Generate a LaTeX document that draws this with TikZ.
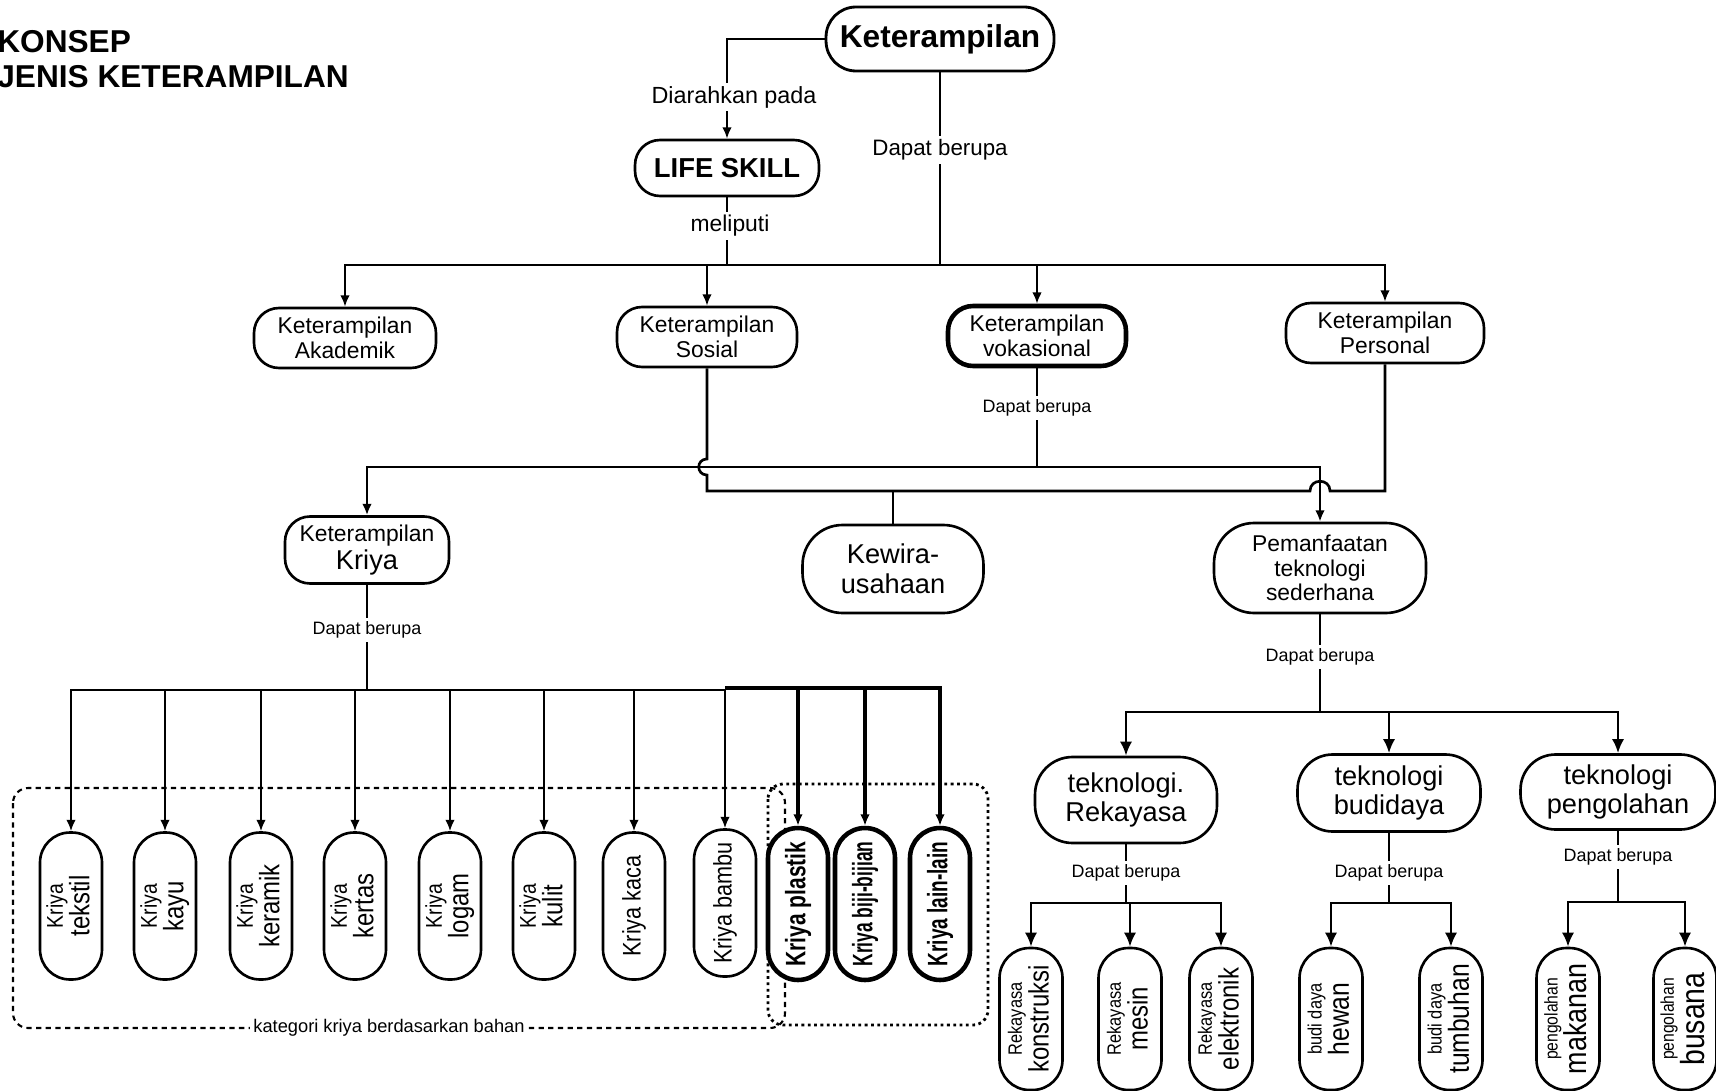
\documentclass[tikz,border=0pt]{standalone}
\usepackage{fontspec}
\setmainfont{Liberation Sans}
\newfontfamily\narrowfont[FakeStretch=0.85]{Liberation Sans}
\usepackage{graphicx}
\usetikzlibrary{arrows.meta,calc}

% rotated texts for the tall boxes
\newcommand{\vlabel}[4]{\rotatebox{90}{\narrowfont\begin{tabular}{@{}c@{}}\fontsize{#1}{#1}\selectfont #2\\\fontsize{#3}{#3}\selectfont #4\end{tabular}}}
\newcommand{\vsingle}[2]{\rotatebox{90}{\narrowfont\fontsize{#1}{#1}\selectfont #2}}
\newcommand{\vbold}[1]{\rotatebox{90}{\resizebox{71pt}{\height}{\fontsize{16}{16}\selectfont\bfseries #1}}}

\begin{document}
\begin{tikzpicture}[x=0.02cm, y=-0.02cm,
    pill/.style={draw, line width=1.5pt, rounded corners=0.5cm, fill=white,
        align=center, inner sep=1pt, minimum height=1.2cm},
    tall/.style={draw, line width=1.5pt, rounded corners=0.6cm, fill=white,
        minimum width=1.24cm, minimum height=2.94cm, inner sep=0pt},
    boldtall/.style={tall, line width=2.6pt, minimum width=1.2cm, minimum height=3.04cm},
    lbl/.style={fill=white, inner sep=2pt, font=\fontsize{10.2}{12}\selectfont},
    ln/.style={line width=1.2pt},
    arr/.style={-{Latex[length=6.5pt,width=5.5pt]}, line width=1.2pt},
    arrbig/.style={-{Latex[length=8pt,width=7pt]}, line width=1.5pt}]

    \useasboundingbox (0,0) rectangle (1716,1091);

    % Title
    \node[anchor=west, inner sep=0pt, font=\fontsize{18}{20}\selectfont\bfseries]
        (judul1) at (-3,42) {KONSEP};
    \node[anchor=west, inner sep=0pt, font=\fontsize{18}{20}\selectfont\bfseries]
        (judul2) at (-3,77) {JENIS KETERAMPILAN};

    % Top
    \node[pill, line width=1.6pt, minimum width=4.56cm, minimum height=1.28cm,
        rounded corners=0.6cm, font=\fontsize{18}{20}\selectfont\bfseries]
        (ket) at (940,39) {Keterampilan};
    \node[pill, minimum width=3.68cm, minimum height=1.12cm,
        font=\fontsize{15.6}{18}\selectfont\bfseries]
        (life) at (727,168) {LIFE SKILL};

    % Level 2
    \node[pill, minimum width=3.64cm, font=\fontsize{13}{14.5}\selectfont]
        (akad) at (345,338) {Keterampilan\\Akademik};
    \node[pill, minimum width=3.6cm, font=\fontsize{13}{14.5}\selectfont]
        (sos) at (707,337) {Keterampilan\\Sosial};
    \node[pill, line width=2.6pt, minimum width=3.56cm, font=\fontsize{13}{14.5}\selectfont]
        (vok) at (1037,336) {Keterampilan\\vokasional};
    \node[pill, minimum width=3.96cm, font=\fontsize{13}{14.5}\selectfont]
        (pers) at (1385,333) {Keterampilan\\Personal};

    \coordinate (top) at (940,265);
    \draw[ln] (ket) -- (top);
    \draw[ln] (life) -- (life |- top);
    \draw[arr] (ket) -| (life);
    \foreach \n in {akad,sos,vok,pers}
        \draw[arr] (top) -| (\n);

    \node[lbl, font=\fontsize{13.3}{15}\selectfont] (lab1) at (734,97) {Diarahkan pada};
    \node[lbl, font=\fontsize{13}{15}\selectfont] (lab2) at (730,226) {meliputi};
    \node[lbl, font=\fontsize{12.7}{15}\selectfont] (lab3) at (940,150) {Dapat berupa};

    % Level 3
    \node[pill, minimum width=3.28cm, minimum height=1.34cm, font=\fontsize{13}{14.5}\selectfont]
        (kriya) at (367,550) {Keterampilan\\[1pt]{\fontsize{15.5}{17}\selectfont Kriya}};
    \node[pill, minimum width=3.62cm, minimum height=1.76cm, rounded corners=0.8cm,
        font=\fontsize{15.5}{17}\selectfont]
        (kew) at (893,569) {Kewira-\\usahaan};
    \node[pill, minimum width=4.24cm, minimum height=1.8cm, rounded corners=0.8cm,
        font=\fontsize{13}{14}\selectfont]
        (pem) at (1320,568) {Pemanfaatan\\teknologi\\sederhana};

    \coordinate (vj) at (1037,467);
    \coordinate (lo) at (1385,491);
    \draw[ln, line width=1.5pt] (vok) -- (vj);
    \draw[arr, line width=1.5pt] (vj) -| (kriya);
    \draw[arr, line width=1.5pt] (vj) -| (pem);
    \draw[ln, line width=1.5pt] (sos) -- ($(sos |- vj)+(0,-8)$)
        .. controls +(-11,0) and +(-11,0) .. ($(sos |- vj)+(0,8)$)
        -- (sos |- lo) -- ($(pem |- lo)+(-10,0)$)
        .. controls +(0,-13) and +(0,-13) .. ($(pem |- lo)+(10,0)$)
        -- (lo) -- (pers);
    \draw[ln, line width=1.5pt] (kew) -- (kew |- lo);
    \node[lbl] (lab4) at (1037,408) {Dapat berupa};

    % Kriya boxes
    \draw[line width=1.2pt, dash pattern=on 3pt off 2.5pt, rounded corners=0.3cm]
        (13,788) rectangle (785,1028);
    \draw[line width=1.6pt, dotted, rounded corners=0.3cm]
        (768,784) rectangle (988,1025);
    \node[lbl, font=\fontsize{10.4}{12}\selectfont] (lab5) at (389,1028)
        {kategori kriya berdasarkan bahan};

    \node[tall] (k1) at (71,906) {\vlabel{13}{Kriya}{16}{tekstil}};
    \node[tall] (k2) at (165,906) {\vlabel{13}{Kriya}{16}{kayu}};
    \node[tall] (k3) at (261,906) {\vlabel{13}{Kriya}{16}{keramik}};
    \node[tall] (k4) at (355,906) {\vlabel{13}{Kriya}{16}{kertas}};
    \node[tall] (k5) at (450,906) {\vlabel{13}{Kriya}{16}{logam}};
    \node[tall] (k6) at (544,906) {\vlabel{13}{Kriya}{16}{kulit}};
    \node[tall] (k7) at (634,906) {\vsingle{14.5}{Kriya kaca}};
    \node[tall] (k8) at (725,903) {\vsingle{14.5}{Kriya bambu}};
    \node[boldtall] (k9) at (798,904) {\vbold{Kriya plastik}};
    \node[boldtall] (k10) at (865,904) {\vbold{Kriya biji-bijian}};
    \node[boldtall] (k11) at (940,904) {\vbold{Kriya lain-lain}};

    \coordinate (kb) at (367,690);
    \draw[ln] (kriya) -- (kb);
    \foreach \n in {k1,k2,k3,k4,k5,k6,k7,k8}
        \draw[arr] (kb) -| (\n);
    \foreach \n in {k9,k10,k11}
        \draw[arr, line width=2pt] ($(k8 |- kb)+(0,-2)$) -| (\n);
    \node[lbl] (lab6) at (367,630) {Dapat berupa};

    % Teknologi
    \node[pill, minimum width=3.64cm, minimum height=1.72cm, rounded corners=0.75cm,
        font=\fontsize{15.5}{16.5}\selectfont]
        (rek) at (1126,800) {teknologi.\\Rekayasa};
    \node[pill, minimum width=3.66cm, minimum height=1.54cm, rounded corners=0.7cm,
        font=\fontsize{15.5}{16}\selectfont]
        (bud) at (1389,793) {teknologi\\budidaya};
    \node[pill, minimum width=3.9cm, minimum height=1.5cm, rounded corners=0.7cm,
        font=\fontsize{15.5}{16}\selectfont]
        (peng) at (1618,792) {teknologi\\pengolahan};

    \coordinate (pb) at (1320,712);
    \draw[ln] (pem) -- (pb);
    \foreach \n in {rek,bud,peng}
        \draw[arrbig] (pb) -| (\n);
    \node[lbl] (lab7) at (1320,657) {Dapat berupa};

    \node[tall, minimum width=1.26cm, minimum height=2.84cm] (r1) at (1031,1019)
        {\vlabel{11}{Rekayasa}{16}{konstruksi}};
    \node[tall, minimum width=1.26cm, minimum height=2.84cm] (r2) at (1130,1019)
        {\vlabel{11}{Rekayasa}{16}{mesin}};
    \node[tall, minimum width=1.26cm, minimum height=2.84cm] (r3) at (1221,1019)
        {\vlabel{11}{Rekayasa}{16}{elektronik}};
    \node[tall, minimum width=1.26cm, minimum height=2.84cm] (b1) at (1331,1019)
        {\vlabel{11}{budi daya}{16.5}{hewan}};
    \node[tall, minimum width=1.26cm, minimum height=2.84cm] (b2) at (1451,1019)
        {\vlabel{11}{budi daya}{16.5}{tumbuhan}};
    \node[tall, minimum width=1.26cm, minimum height=2.84cm] (p1) at (1568,1019)
        {\vlabel{10.5}{pengolahan}{18}{makanan}};
    \node[tall, minimum width=1.26cm, minimum height=2.84cm] (p2) at (1685,1019)
        {\vlabel{10.5}{pengolahan}{19}{busana}};

    \coordinate (rb) at (1126,903);
    \draw[ln, line width=1.5pt] (rek) -- (rb);
    \foreach \n in {r1,r2,r3}
        \draw[arrbig] (rb) -| (\n);
    \node[lbl] (lab8) at (1126,873) {Dapat berupa};

    \coordinate (bb) at (1389,903);
    \draw[ln, line width=1.5pt] (bud) -- (bb);
    \foreach \n in {b1,b2}
        \draw[arrbig] (bb) -| (\n);
    \node[lbl] (lab9) at (1389,873) {Dapat berupa};

    \coordinate (gb) at (1618,902);
    \draw[ln, line width=1.5pt] (peng) -- (gb);
    \foreach \n in {p1,p2}
        \draw[arrbig] (gb) -| (\n);
    \node[lbl] (lab10) at (1618,857) {Dapat berupa};

\end{tikzpicture}
\end{document}
